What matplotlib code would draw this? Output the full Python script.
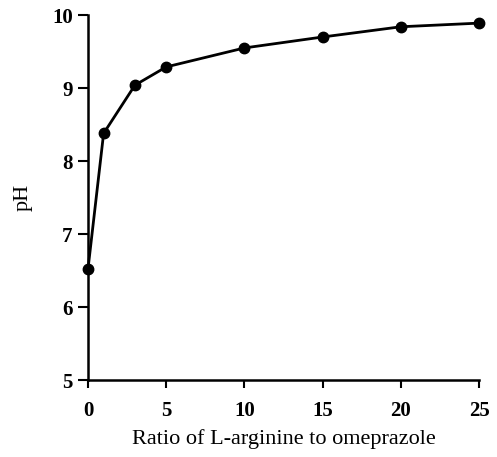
import matplotlib
matplotlib.use("Agg")
import matplotlib.pyplot as plt

ratio = [0, 1, 3, 5, 10, 15, 20, 25]
ph = [6.52, 8.38, 9.04, 9.29, 9.55, 9.70, 9.84, 9.89]
xticks = [0, 5, 10, 15, 20, 25]
yticks = [5, 6, 7, 8, 9, 10]

plt.rcParams['font.family'] = ['Liberation Serif', 'DejaVu Serif']

fig = plt.figure(figsize=(4.97, 4.57), dpi=100)
ax = fig.add_axes([0.177, 0.168, 0.787, 0.799])
ax.plot(ratio, ph, color='black', lw=2, marker='o', ms=7.5, clip_on=False, zorder=3)
ax.set_xlim(0, 25)
ax.set_ylim(5, 10)
ax.set_xticks(xticks)
ax.set_yticks(yticks)
for s in ['top', 'right']:
    ax.spines[s].set_visible(False)
for s in ['left', 'bottom']:
    ax.spines[s].set_linewidth(1.8)
ax.tick_params(axis='y', direction='out', length=7, width=1.5, labelsize=15, pad=4)
ax.tick_params(axis='x', direction='out', length=6, width=1.5, labelsize=15, pad=9)
for lab in ax.get_xticklabels() + ax.get_yticklabels():
    lab.set_fontweight('bold')
ax.set_xlabel('Ratio of L-arginine to omeprazole', fontsize=16, labelpad=6)
ax.set_ylabel('pH', fontsize=16, labelpad=14)
fig.savefig('out.png', dpi=100)
